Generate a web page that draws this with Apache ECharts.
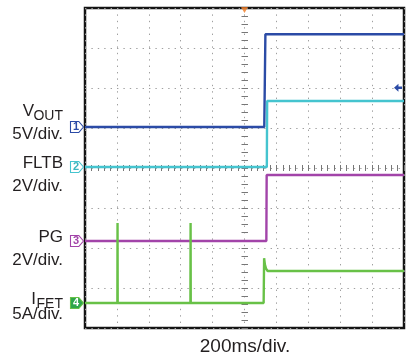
<!DOCTYPE html>
<html>
<head>
<meta charset="utf-8">
<script src="https://cdn.jsdelivr.net/npm/echarts/dist/echarts.min.js"></script>
<style>
html,body{margin:0;padding:0;background:#fff;}
#c{width:411px;height:359px;}
</style>
</head>
<body>
<div id="c"></div>
<script>
// ---- data (time in ms, 200 ms/div, trigger at 0) ----
const voutT = [-1000, 124, 131, 1000];
const voutV = [0, 0, 11.6, 11.6];
const fltbT = [-1000, 140, 142, 1000];
const fltbV = [0, 0, 3.3, 3.3];
const pgT = [-1000, 137, 139, 1000];
const pgV = [0, 0, 3.3, 3.3];
const ifetT = [-1000, -797, -796, -795, -339, -338, -337, 120, 123, 128, 135, 145, 1000];
const ifetA = [0, 0, 10, 0, 0, 10, 0, 0, 5.6, 4.8, 4.3, 4.0, 4.0];
const vout1Level = 4.9;      // channel 1 level indicator (V)
const triggerTime = 0;

// channel settings
const chNames = ['V', 'FLTB', 'PG', 'I'];
const chSubs = ['OUT', '', '', 'FET'];
const chScaleText = ['5V/div.', '2V/div.', '2V/div.', '5A/div.'];
const chNumbers = ['1', '2', '3', '4'];
const chPerDiv = [5, 2, 2, 5];
const chGroundDiv = [1.025, 0.025, -1.825, -3.375];
const timeScaleText = '200ms/div.';

// ---- styling ----
const chColors = ['#2b4ba6', '#45c4cf', '#a244a9', '#68c147'];
const markerFill = ['#ffffff', '#ffffff', '#ffffff', '#2fa64a'];
const markerText = ['#2b4ba6', '#3bb5bf', '#a244a9', '#ffffff'];
const FONT = '"Liberation Sans", Arial, sans-serif';
const plateSym = 'path://M0,0 L7,0 L11,5 L7,10 L0,10 Z';
const arrowSym = 'path://M0,5 L5,0 L5,3.5 L9,3.5 L9,6.5 L5,6.5 L5,10 Z';

const zip = (t, v) => t.map((x, i) => [x, v[i]]);
const seriesData = [zip(voutT, voutV), zip(fltbT, fltbV), zip(pgT, pgV), zip(ifetT, ifetA)];

const G = {left: 85, top: 8, width: 319, height: 320};

const tickColor = '#777';
const mainX = (pos) => ({
  gridIndex: 0, type: 'value', position: pos, min: -1000, max: 1000, interval: 200,
  axisLine: {show: false}, axisLabel: {show: false},
  axisTick: {show: true, inside: true, length: 3, lineStyle: {color: tickColor}},
  minorTick: {show: true, splitNumber: 5, length: 3, lineStyle: {color: tickColor}},
  splitLine: {show: pos === 'bottom', lineStyle: {color: '#a0a0a0', type: [1.4, 5], width: 1}}
});
const mainY = (pos) => ({
  gridIndex: 0, type: 'value', position: pos, min: -4, max: 4, interval: 1,
  axisLine: {show: false}, axisLabel: {show: false},
  axisTick: {show: true, inside: true, length: 3, lineStyle: {color: tickColor}},
  minorTick: {show: true, splitNumber: 5, length: 3, lineStyle: {color: tickColor}},
  splitLine: {show: pos === 'left', lineStyle: {color: '#a0a0a0', type: [1.4, 5], width: 1}}
});

const xAxes = [
  mainX('bottom'), mainX('top'),
  {gridIndex: 1, type: 'value', position: 'bottom', min: -1000, max: 1000, interval: 200,
   axisLine: {show: false}, axisLabel: {show: false}, splitLine: {show: false},
   axisTick: {show: true, inside: true, length: 6, lineStyle: {color: tickColor}},
   minorTick: {show: true, splitNumber: 5, length: 6, lineStyle: {color: tickColor}}},
  {gridIndex: 2, type: 'value', show: false, min: 0, max: 1}
];
const yAxes = [
  mainY('left'), mainY('right'),
  ...chPerDiv.map((s, i) => ({gridIndex: 0, type: 'value', show: false,
    min: (-4 - chGroundDiv[i]) * s, max: (4 - chGroundDiv[i]) * s})),
  {gridIndex: 1, type: 'value', show: false, min: 0, max: 1},
  {gridIndex: 2, type: 'value', position: 'left', min: -4, max: 4, interval: 1,
   axisLine: {show: false}, axisLabel: {show: false}, splitLine: {show: false},
   axisTick: {show: true, inside: true, length: 6, lineStyle: {color: tickColor}},
   minorTick: {show: true, splitNumber: 5, length: 6, lineStyle: {color: tickColor}}}
];

const series = seriesData.map((d, i) => {
  const mpData = [{coord: [-1000, 0], symbol: plateSym, symbolSize: [13, 11], symbolOffset: [-8, 0],
    itemStyle: {color: markerFill[i], borderColor: chColors[i], borderWidth: 1},
    label: {show: true, position: 'inside', formatter: chNumbers[i], color: markerText[i],
      fontSize: 11, fontWeight: 'bold', fontFamily: FONT, offset: [-1, 0]}}];
  if (i === 0) {
    mpData.push({coord: [1000, vout1Level], symbol: arrowSym, symbolSize: [8, 8], symbolOffset: [-6, 0],
      itemStyle: {color: chColors[0]}, label: {show: false}});
  }
  return {
    type: 'line', xAxisIndex: 0, yAxisIndex: 2 + i, data: d, showSymbol: false,
    lineStyle: {color: chColors[i], width: 2.4}, z: 3 + i, clip: true,
    markPoint: {data: mpData, animation: false}
  };
});
series.push({
  type: 'scatter', xAxisIndex: 0, yAxisIndex: 0, data: [[triggerTime, 4]],
  symbol: 'triangle', symbolRotate: 180, symbolSize: [7, 6], symbolOffset: [0, 2],
  itemStyle: {color: '#f07a22'}, clip: false, z: 10
});

const graphics = [];
const nameBase = [117, 169, 243, 305];
const scaleBase = [140, 192, 266, 320];
const mid = (base, fs) => base - 0.3465 * fs;
chNames.forEach((n, i) => {
  if (chSubs[i]) {
    graphics.push({type: 'text', x: 63, y: mid(nameBase[i] + 4, 14),
      style: {text: chSubs[i], fill: '#231f20', fontSize: 14, fontFamily: FONT, align: 'right', verticalAlign: 'middle'}});
    graphics.push({type: 'text', x: i === 0 ? 34 : 36, y: mid(nameBase[i], 17),
      style: {text: n, fill: '#231f20', fontSize: 17, fontFamily: FONT, align: 'right', verticalAlign: 'middle'}});
  } else {
    graphics.push({type: 'text', x: 63, y: mid(nameBase[i], 17),
      style: {text: n, fill: '#231f20', fontSize: 17, fontFamily: FONT, align: 'right', verticalAlign: 'middle'}});
  }
  graphics.push({type: 'text', x: 63, y: mid(scaleBase[i], 17),
    style: {text: chScaleText[i], fill: '#231f20', fontSize: 17, fontFamily: FONT, align: 'right', verticalAlign: 'middle'}});
});
graphics.push({type: 'text', x: 245, y: mid(353.5, 19),
  style: {text: timeScaleText, fill: '#231f20', fontSize: 19, fontFamily: FONT, align: 'center', verticalAlign: 'middle'}});

const chart = echarts.init(document.getElementById('c'), null, {renderer: 'canvas'});
chart.setOption({
  animation: false,
  backgroundColor: '#ffffff',
  grid: [
    Object.assign({show: true, borderColor: '#141414', borderWidth: 2.5, backgroundColor: 'transparent', outerBoundsMode: 'none', containLabel: false}, G),
    {left: G.left, width: G.width, top: 165, height: 6, show: false, outerBoundsMode: 'none', containLabel: false},
    {left: 242, width: 6, top: G.top, height: G.height, show: false, outerBoundsMode: 'none', containLabel: false}
  ],
  xAxis: xAxes,
  yAxis: yAxes,
  series: series,
  graphic: graphics
});
</script>
</body>
</html>
